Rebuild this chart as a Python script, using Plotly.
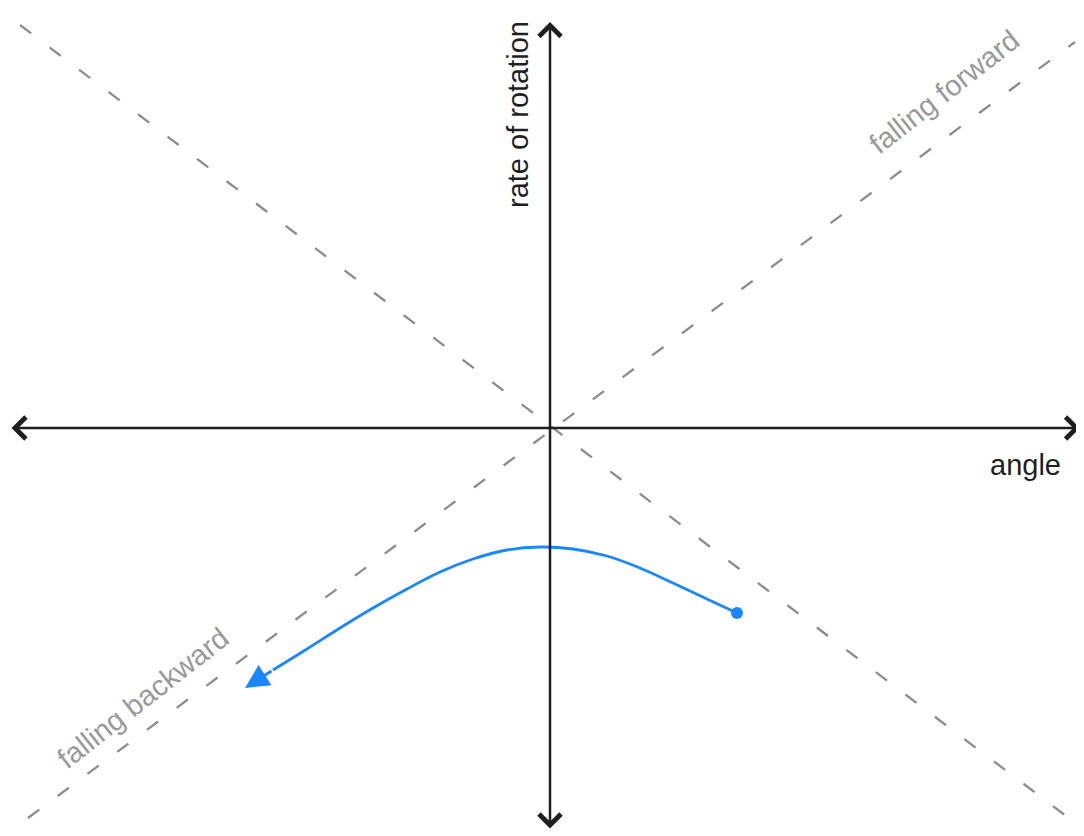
import plotly.graph_objects as go


# ==========================================================
# Data (origin at the crossing of the two axes)
# ==========================================================

axis_x_extent = [-540, 530]
axis_y_extent = [-402, 406]

forward_line_x = [-522, 525]
forward_line_y = [-390, 386]

backward_line_x = [-530, 528]
backward_line_y = [403, -397]

path_x = [187, 157, 123, 90, 57, 23, -10, -43, -77, -110, -143, -177, -210, -243, -277]
path_y = [-185, -171, -155, -140, -128, -121, -119, -122, -131, -144, -161, -180, -200, -221, -242]
path_tip = [-305, -260]

label_text = ["angle", "rate of rotation", "falling forward", "falling backward"]
label_x = [475, -32, 394, -407]
label_y = [-37, 313, 336, -270]


BLUE = "#1a86ff"
DARK = "#1f1f1f"
GREY = "#8c8c8c"

fig = go.Figure()

# dashed guide lines
for lx, ly in [(forward_line_x, forward_line_y), (backward_line_x, backward_line_y)]:
    fig.add_trace(
        go.Scatter(
            x=lx,
            y=ly,
            mode="lines",
            line=dict(color=GREY, width=2.3, dash="14px,23px"),
            hoverinfo="skip",
            showlegend=False
        )
    )

# trajectory
fig.add_trace(
    go.Scatter(
        x=path_x,
        y=path_y,
        mode="lines",
        line=dict(color=BLUE, width=2.8, shape="spline", smoothing=1.0),
        showlegend=False
    )
)

fig.add_trace(
    go.Scatter(
        x=[path_x[0]],
        y=[path_y[0]],
        mode="markers",
        marker=dict(color=BLUE, size=12),
        showlegend=False
    )
)

# blue arrow head
fig.add_annotation(
    x=path_tip[0], y=path_tip[1],
    ax=path_x[-1], ay=path_y[-1],
    xref="x", yref="y", axref="x", ayref="y",
    text="", showarrow=True,
    arrowhead=2, arrowsize=1.7, arrowwidth=2.8,
    arrowcolor=BLUE, standoff=0
)

# axes with double-ended arrows
fig.add_annotation(
    x=axis_x_extent[1], y=0,
    ax=axis_x_extent[0], ay=0,
    xref="x", yref="y", axref="x", ayref="y",
    text="", showarrow=True,
    arrowside="end+start",
    arrowhead=4, startarrowhead=4,
    arrowsize=1.7, startarrowsize=1.7,
    arrowwidth=2.5, arrowcolor=DARK
)

fig.add_annotation(
    x=0, y=axis_y_extent[1],
    ax=0, ay=axis_y_extent[0],
    xref="x", yref="y", axref="x", ayref="y",
    text="", showarrow=True,
    arrowside="end+start",
    arrowhead=4, startarrowhead=4,
    arrowsize=1.7, startarrowsize=1.7,
    arrowwidth=2.5, arrowcolor=DARK
)

# labels
angles = [0, -90, -38, -38]
colours = [DARK, DARK, "#999999", "#999999"]
for t, x, y, a, c in zip(label_text, label_x, label_y, angles, colours):
    fig.add_annotation(
        x=x, y=y, xref="x", yref="y",
        text=t, showarrow=False, textangle=a,
        font=dict(family="Liberation Sans, Arial", size=29, color=c)
    )

# the page body adds an 8px offset, so the ranges are shifted to compensate
fig.update_layout(
    width=1084,
    height=836,
    margin=dict(l=0, r=0, t=0, b=0),
    paper_bgcolor="white",
    plot_bgcolor="white",
    xaxis=dict(range=[-542, 542], visible=False, fixedrange=True),
    yaxis=dict(range=[-416, 420], visible=False, fixedrange=True),
)

fig.write_html("out.html")
